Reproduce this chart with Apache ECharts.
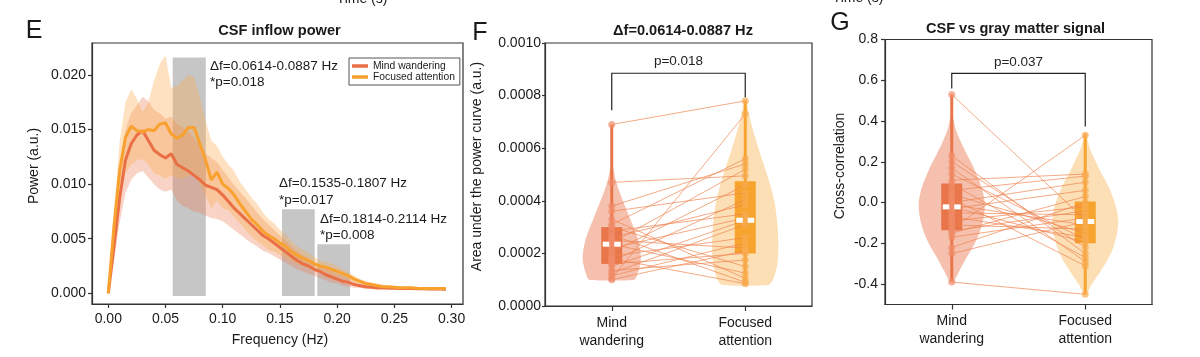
<!DOCTYPE html>
<html><head><meta charset="utf-8">
<script src="https://cdn.jsdelivr.net/npm/echarts@6/dist/echarts.min.js"></script>
<style>html,body{margin:0;padding:0;background:#fff}#c{width:1200px;height:357px}</style>
</head><body><div id="c"></div>
<script>
// ---------- Panel E data ----------
const freq = [0,0.005,0.01,0.015,0.02,0.025,0.03,0.035,0.04,0.045,0.05,0.055,0.06,0.065,0.07,0.075,0.08,0.085,0.09,0.095,
  0.1,0.105,0.11,0.115,0.12,0.125,0.13,0.135,0.14,0.145,0.15,0.155,0.16,0.165,0.17,0.175,0.18,0.185,0.19,0.195,
  0.2,0.205,0.21,0.215,0.22,0.225,0.23,0.235,0.24,0.245,0.25,0.255,0.26,0.265,0.27,0.275,0.28,0.285,0.29,0.295];
const mwMean = [0,.0043,.0088,.0122,.0137,.0145,.0149,.0140,.0131,.0127,
  .0124,.0128,.0118,.0115,.0112,.0108,.0104,.0099,.0097,.0095,
  .0090,.0084,.0078,.0073,.0068,.0063,.0058,.0053,.0050,.0046,
  .0042,.0038,.0034,.0030,.0027,.0025,.0022,.0020,.0017,.0015,
  .0013,.0011,.0010,.0008,.0007,.0006,.00055,.0005,.0005,.00048,
  .00046,.00045,.00044,.00043,.00042,.00041,.0004,.0004,.00039,.00038];
const mwHigh = [0,.0055,.0110,.0150,.0165,.0172,.0180,.0176,.0168,.0165,
  .0160,.0162,.0155,.0152,.0148,.0142,.0135,.0128,.0124,.0120,
  .0113,.0106,.0099,.0093,.0087,.0081,.0074,.0068,.0063,.0058,
  .0053,.0048,.0043,.0038,.0035,.0032,.0029,.0026,.0023,.0020,
  .0018,.0016,.0014,.0012,.0010,.0009,.0008,.0007,.0007,.00065,
  .0006,.0006,.00058,.00056,.00055,.00054,.00053,.00052,.00051,.0005];
const mwLow = [0,.0030,.0065,.0092,.0104,.0110,.0112,.0106,.0100,.0095,
  .0093,.0095,.0085,.0080,.0078,.0075,.0074,.0071,.0069,.0068,
  .0066,.0062,.0058,.0054,.0050,.0046,.0043,.0039,.0037,.0034,
  .0031,.0028,.0025,.0022,.0020,.0018,.0016,.0014,.0012,.0010,
  .0009,.0007,.0006,.0005,.0005,.0004,.0004,.0003,.0003,.0003,
  .0003,.0003,.0003,.0003,.0003,.00028,.00028,.00027,.00027,.00026];
const faMean = [0,.0062,.0113,.0143,.0153,.0149,.0148,.0150,.0149,.0155,
  .0156,.0146,.0142,.0145,.0152,.0152,.0137,.0122,.0104,.0111,
  .0100,.0096,.0090,.0082,.0075,.0068,.0063,.0057,.0053,.0050,
  .0046,.0043,.0038,.0035,.0032,.0030,.0027,.0025,.0024,.0022,
  .0020,.0018,.0016,.0013,.0011,.0009,.0008,.0007,.0006,.0006,
  .00055,.0005,.0005,.0005,.00046,.00045,.00045,.00044,.00044,.00043];
const faHigh = [0,.0075,.0140,.0175,.0187,.0178,.0166,.0175,.0195,.0210,
  .0218,.0188,.0190,.0195,.0200,.0198,.0180,.0158,.0140,.0135,
  .0125,.0118,.0112,.0102,.0095,.0088,.0082,.0074,.0068,.0064,
  .0058,.0054,.0048,.0043,.0040,.0037,.0033,.0030,.0029,.0027,
  .0025,.0022,.0019,.0016,.0013,.0011,.0010,.0009,.0008,.0007,
  .00065,.0006,.0006,.0006,.00058,.00056,.00055,.00054,.00053,.00052];
const faLow = [0,.0048,.0086,.0110,.0118,.0122,.0123,.0118,.0110,.0108,
  .0105,.0108,.0106,.0105,.0108,.0110,.0100,.0090,.0078,.0085,
  .0078,.0076,.0070,.0064,.0058,.0052,.0048,.0044,.0040,.0038,
  .0035,.0032,.0029,.0027,.0025,.0023,.0021,.0020,.0019,.0017,
  .0015,.0014,.0012,.0010,.0009,.0007,.0006,.0006,.0005,.0005,
  .00045,.0004,.0004,.0004,.00038,.00036,.00036,.00035,.00035,.00034];
const shadeStart = [0.0563, 0.1518, 0.1827];
const shadeEnd   = [0.0852, 0.1804, 0.2113];
const shadeTop   = [0.0216, 0.0077, 0.0045];
const shadeBottom = -0.00025;
const shadeLabels = ['\u0394f=0.0614-0.0887 Hz','\u0394f=0.1535-0.1807 Hz','\u0394f=0.1814-0.2114 Hz'];
const shadeP = ['*p=0.018','*p=0.017','*p=0.008'];
const eXTicks = [0,0.05,0.10,0.15,0.20,0.25,0.30];
const eYTicks = [0,0.005,0.010,0.015,0.020];

// ---------- Panels F / G data ----------
const groups = ['Mind wandering','Focused attention'];
const groupLabels = ['Mind\nwandering','Focused\nattention'];
const aucMW = [0.000690,0.000470,0.000380,0.000360,0.000330,0.000310,0.000300,0.000285,0.000270,0.000260,0.000250,0.000240,0.000235,
  0.000220,0.000205,0.000190,0.000180,0.000170,0.000160,0.000150,0.000135,0.000125,0.000115,0.000105,0.000100];
const aucFA = [0.000780,0.000495,0.000540,0.000430,0.000105,0.000560,0.000150,0.000350,0.000090,0.000385,0.000220,0.000520,0.000125,
  0.000335,0.000460,0.000260,0.000085,0.000405,0.000200,0.000326,0.000175,0.000310,0.000240,0.000730,0.000210];
const aucBoxMW = [0.000100,0.000160,0.000235,0.000300,0.000690]; // min,q1,median,q3,max
const aucBoxFA = [0.000080,0.000200,0.000326,0.000474,0.000780];
const aucVioMW = [[0.000100,0.75],[0.000120,0.85],[0.000150,0.93],[0.000180,0.97],[0.000210,0.95],[0.000250,0.88],[0.000290,0.76],
  [0.000330,0.62],[0.000370,0.48],[0.000410,0.34],[0.000450,0.21],[0.000490,0.11],[0.000530,0.04],[0.000560,0.01]];
const aucVioFA = [[0.000080,0.70],[0.000100,0.84],[0.000150,0.96],[0.000200,1.0],[0.000250,1.0],[0.000300,0.98],[0.000350,0.94],
  [0.000400,0.88],[0.000450,0.78],[0.000500,0.66],[0.000550,0.53],[0.000600,0.40],[0.000650,0.28],[0.000700,0.17],[0.000750,0.08],[0.000785,0.02]];
const ccMW = [0.53,0.23,0.20,0.17,0.14,0.11,0.09,0.06,0.04,0.02,0.00,-0.01,-0.021,-0.03,-0.05,-0.07,-0.09,-0.11,-0.13,-0.14,-0.15,-0.17,-0.22,-0.25,-0.39];
const ccFA = [-0.085,-0.25,-0.22,-0.29,-0.18,0.14,-0.27,0.13,-0.15,-0.31,0.10,-0.11,-0.195,0.06,-0.06,-0.17,-0.02,-0.13,0.33,-0.04,0.03,-0.075,0.00,-0.093,-0.45];
const ccBoxMW = [-0.387,-0.136,-0.021,0.093,0.531];
const ccBoxFA = [-0.452,-0.200,-0.093,0.005,0.339];
const ccVioMW = [[-0.39,0.05],[-0.33,0.25],[-0.27,0.45],[-0.20,0.70],[-0.13,0.88],[-0.06,0.98],[0.00,1.0],[0.06,0.93],[0.12,0.80],
  [0.18,0.64],[0.24,0.45],[0.30,0.27],[0.36,0.12],[0.42,0.03]];
const ccVioFA = [[-0.45,0.04],[-0.40,0.20],[-0.34,0.45],[-0.28,0.68],[-0.22,0.85],[-0.16,0.95],[-0.10,1.0],[-0.04,0.96],[0.02,0.85],
  [0.08,0.70],[0.14,0.50],[0.20,0.32],[0.26,0.15],[0.32,0.04]];
const gYTicks = [-0.4,-0.2,0,0.2,0.4,0.6,0.8];
const aucP = 'p=0.018', ccP = 'p=0.037';

// ---------- styles ----------
const FF = '"Liberation Sans", Arial, Helvetica, sans-serif';
const C_MW = '#ea6f45', C_FA = '#f8a12e';
const BAND_MW = 'rgba(236,120,80,0.33)', BAND_FA = 'rgba(250,172,80,0.36)';
const VIO_MW = 'rgba(236,140,105,0.55)', VIO_FA = 'rgba(250,196,120,0.55)';
const BOX_MW = '#e9764a', BOX_FA = '#f7a42e';
const PT_MW = 'rgba(240,140,105,0.85)', PT_FA = 'rgba(248,172,80,0.85)';
const PAIR = 'rgba(238,128,76,0.75)';
const AX = '#333';

const chart = echarts.init(document.getElementById('c'), null, {renderer:'canvas'});

function bandSeries(lo, hi, color){
  return {type:'custom', xAxisIndex:0, yAxisIndex:0, data:[[0,0]], silent:true, z:2, clip:false,
    renderItem:(p, api)=>{
      const pts=[];
      for(let i=0;i<freq.length;i++) pts.push(api.coord([freq[i],hi[i]]));
      for(let i=freq.length-1;i>=0;i--) pts.push(api.coord([freq[i],lo[i]]));
      return {type:'polygon', shape:{points:pts}, style:{fill:color}};
    }};
}
function violin(idx, gx, prof, scale, color){
  return {type:'custom', xAxisIndex:idx, yAxisIndex:idx, data:[[gx, prof[0][0]]], silent:true, z:1, clip:false,
    renderItem:(p, api)=>{
      const r=[], l=[];
      prof.forEach(([v,w])=>{const c=api.coord([gx,v]); r.push([c[0]+w*scale,c[1]]); l.push([c[0]-w*scale,c[1]]);});
      return {type:'polygon', shape:{points:r.concat(l.reverse()), smooth:0.25}, style:{fill:color}};
    }};
}
function box(idx, gx, st, color){
  return {type:'custom', xAxisIndex:idx, yAxisIndex:idx, data:[[gx, st[2]]], silent:true, z:3, clip:false,
    renderItem:(p, api)=>{
      const a=api.coord([gx,st[0]]), b=api.coord([gx,st[4]]), q1=api.coord([gx,st[1]]), q3=api.coord([gx,st[3]]);
      const hw=10.5;
      return {type:'group', children:[
        {type:'line', shape:{x1:a[0],y1:a[1],x2:b[0],y2:b[1]}, style:{stroke:color, lineWidth:3}},
        {type:'rect', shape:{x:q1[0]-hw, y:q3[1], width:2*hw, height:q1[1]-q3[1]}, style:{fill:color}}
      ]};
    }};
}
function median(idx, gx, st){
  return {type:'custom', xAxisIndex:idx, yAxisIndex:idx, data:[[gx, st[2]]], silent:true, z:7, clip:false,
    renderItem:(p, api)=>{
      const m=api.coord([gx,st[2]]);
      return {type:'group', children:[
        {type:'rect', shape:{x:m[0]-9, y:m[1]-2.5, width:6.5, height:5}, style:{fill:'#fff'}},
        {type:'rect', shape:{x:m[0]+2.5, y:m[1]-2.5, width:6.5, height:5}, style:{fill:'#fff'}}
      ]};
    }};
}
function pairs(idx, a, b){
  return {type:'custom', xAxisIndex:idx, yAxisIndex:idx, data:a.map((v,i)=>[v,b[i]]), silent:true, z:4, clip:false,
    renderItem:(p, api)=>{
      const s=api.coord([0,api.value(0)]), e=api.coord([1,api.value(1)]);
      return {type:'line', shape:{x1:s[0],y1:s[1],x2:e[0],y2:e[1]}, style:{stroke:PAIR, lineWidth:0.9}};
    }};
}
function points(idx, gx, vals, color){
  return {type:'scatter', xAxisIndex:idx, yAxisIndex:idx, data:vals.map(v=>[gx,v]), symbolSize:7, silent:true, z:5,
    itemStyle:{color:color}};
}
function bracket(idx, legL, legR, top, ty, txt){
  return {type:'custom', xAxisIndex:idx, yAxisIndex:idx, data:[[0.5, top]], silent:true, z:6, clip:false,
    renderItem:(p, api)=>{
      const a=api.coord([0,legL]), b=api.coord([0,top]), c=api.coord([1,top]), d=api.coord([1,legR]), t=api.coord([0.5,ty]);
      return {type:'group', children:[
        {type:'polyline', shape:{points:[a,b,c,d]}, style:{stroke:'#222', lineWidth:1.2, fill:null}},
        {type:'text', style:{text:txt, x:t[0], y:t[1], font:'13.5px '+FF, fill:'#222', align:'center', verticalAlign:'middle', textAlign:'center', textVerticalAlign:'middle'}}
      ]};
    }};
}
function txt(x, y, text, font, align, rot){
  return {type:'text', x:x, y:y, rotation:rot||0, silent:true,
    style:{text:text, font:font, fill:'#1a1a1a', align:align||'center', verticalAlign:'middle', textAlign:align||'center', textVerticalAlign:'middle'}};
}

const axisLineS = {show:true, onZero:false, lineStyle:{color:AX, width:1.2}};
const tickS = {show:true, inside:false, length:4, lineStyle:{color:AX, width:1.2}};
const lblS = {fontSize:14, color:'#1a1a1a', fontFamily:FF};

const catX = (idx)=>({gridIndex:idx, type:'value', min:-0.5, max:1.5,
  axisLine:axisLineS, splitLine:{show:false},
  axisTick:Object.assign({}, tickS, {customValues:[0,1], length:5}),
  axisLabel:Object.assign({}, lblS, {customValues:[0,1], formatter:v=>groupLabels[Math.round(v)], lineHeight:18, margin:8})});

const option = {
  animation:false,
  backgroundColor:'#fff',
  textStyle:{fontFamily:FF},
  grid:[
    {left:92, top:43, width:371, height:261, show:true, borderColor:AX, borderWidth:1.2, backgroundColor:'transparent'},
    {left:545, top:43, width:267, height:263, show:true, borderColor:AX, borderWidth:1.2, backgroundColor:'transparent'},
    {left:885, top:39.5, width:267, height:265, show:true, borderColor:AX, borderWidth:1.2, backgroundColor:'transparent'}
  ],
  xAxis:[
    {gridIndex:0, type:'value', min:-0.01425, max:0.310, axisLine:axisLineS, splitLine:{show:false},
      axisTick:Object.assign({}, tickS, {customValues:eXTicks}),
      axisLabel:Object.assign({}, lblS, {customValues:eXTicks, formatter:v=>v.toFixed(2), margin:8})},
    catX(1), catX(2)
  ],
  yAxis:[
    {gridIndex:0, type:'value', min:-0.00098, max:0.02293, axisLine:axisLineS, splitLine:{show:false},
      axisTick:Object.assign({}, tickS, {customValues:eYTicks}),
      axisLabel:Object.assign({}, lblS, {customValues:eYTicks, formatter:v=>v.toFixed(3), margin:6})},
    {gridIndex:1, type:'value', min:0, max:0.001, interval:0.0002, axisLine:axisLineS, splitLine:{show:false},
      axisTick:Object.assign({}, tickS, {length:3}),
      axisLabel:Object.assign({}, lblS, {formatter:v=>v.toFixed(4), margin:4})},
    {gridIndex:2, type:'value', min:-0.5, max:0.8, axisLine:axisLineS, splitLine:{show:false},
      axisTick:Object.assign({}, tickS, {customValues:gYTicks}),
      axisLabel:Object.assign({}, lblS, {customValues:gYTicks, formatter:v=>v.toFixed(1), margin:7})}
  ],
  legend:{data:groups, left:349, top:58, orient:'vertical', icon:'rect', itemWidth:16, itemHeight:3.5, itemGap:1,
    padding:[3,5,3,3], borderColor:'#555', borderWidth:1, backgroundColor:'#fff',
    textStyle:{fontSize:10.3, color:'#1a1a1a', fontFamily:FF, padding:[0,0,0,0]}},
  series:[
    {type:'custom', xAxisIndex:0, yAxisIndex:0, data:shadeStart.map((s,i)=>[s, shadeTop[i], shadeEnd[i]]), silent:true, z:1, clip:false,
      renderItem:(p, api)=>{
        const a=api.coord([api.value(0), api.value(1)]), b=api.coord([api.value(2), shadeBottom]);
        return {type:'rect', shape:{x:a[0], y:a[1], width:b[0]-a[0], height:b[1]-a[1]}, style:{fill:'#c6c6c6'}};
      }},
    bandSeries(mwLow, mwHigh, BAND_MW),
    bandSeries(faLow, faHigh, BAND_FA),
    {name:groups[0], type:'line', xAxisIndex:0, yAxisIndex:0, data:freq.map((f,i)=>[f,mwMean[i]]), showSymbol:false, symbol:'none',
      lineStyle:{color:C_MW, width:3}, itemStyle:{color:C_MW}, z:4},
    {name:groups[1], type:'line', xAxisIndex:0, yAxisIndex:0, data:freq.map((f,i)=>[f,faMean[i]]), showSymbol:false, symbol:'none',
      lineStyle:{color:C_FA, width:3}, itemStyle:{color:C_FA}, z:5},
    // F
    violin(1, 0, aucVioMW, 30, VIO_MW), violin(1, 1, aucVioFA, 33, VIO_FA),
    box(1, 0, aucBoxMW, BOX_MW), box(1, 1, aucBoxFA, BOX_FA),
    pairs(1, aucMW, aucFA),
    points(1, 0, aucMW, PT_MW), points(1, 1, aucFA, PT_FA),
    median(1, 0, aucBoxMW), median(1, 1, aucBoxFA),
    bracket(1, 0.000744, 0.000794, 0.000885, 0.00093, aucP),
    // G
    violin(2, 0, ccVioMW, 33, VIO_MW), violin(2, 1, ccVioFA, 33, VIO_FA),
    box(2, 0, ccBoxMW, BOX_MW), box(2, 1, ccBoxFA, BOX_FA),
    pairs(2, ccMW, ccFA),
    points(2, 0, ccMW, PT_MW), points(2, 1, ccFA, PT_FA),
    median(2, 0, ccBoxMW), median(2, 1, ccBoxFA),
    bracket(2, 0.56, 0.373, 0.634, 0.688, ccP)
  ],
  graphic:[
    txt(362, -1, 'Time (s)', '14px '+FF),
    txt(858, -2, 'Time (s)', '14px '+FF),
    txt(34, 31, 'E', '25px '+FF),
    txt(480, 33, 'F', '25px '+FF),
    txt(840, 23, 'G', '25px '+FF),
    txt(279.5, 30.5, 'CSF inflow power', 'bold 14.6px '+FF),
    txt(683, 30.5, '\u0394f=0.0614-0.0887 Hz', 'bold 14.6px '+FF),
    txt(1015.5, 28.5, 'CSF vs gray matter signal', 'bold 14.6px '+FF),
    txt(34, 166, 'Power (a.u.)', '14px '+FF, 'center', Math.PI/2),
    txt(477, 166.5, 'Area under the power curve (a.u.)', '14px '+FF, 'center', Math.PI/2),
    txt(840, 166, 'Cross-correlation', '14px '+FF, 'center', Math.PI/2),
    txt(280, 340.5, 'Frequency (Hz)', '14px '+FF),
    txt(210, 66, shadeLabels[0], '13.5px '+FF, 'left'),
    txt(210, 82, shadeP[0], '13.5px '+FF, 'left'),
    txt(279, 183, shadeLabels[1], '13.5px '+FF, 'left'),
    txt(279, 200, shadeP[1], '13.5px '+FF, 'left'),
    txt(320, 219.5, shadeLabels[2], '13.5px '+FF, 'left'),
    txt(320, 235, shadeP[2], '13.5px '+FF, 'left')
  ]
};
chart.setOption(option);
</script></body></html>
